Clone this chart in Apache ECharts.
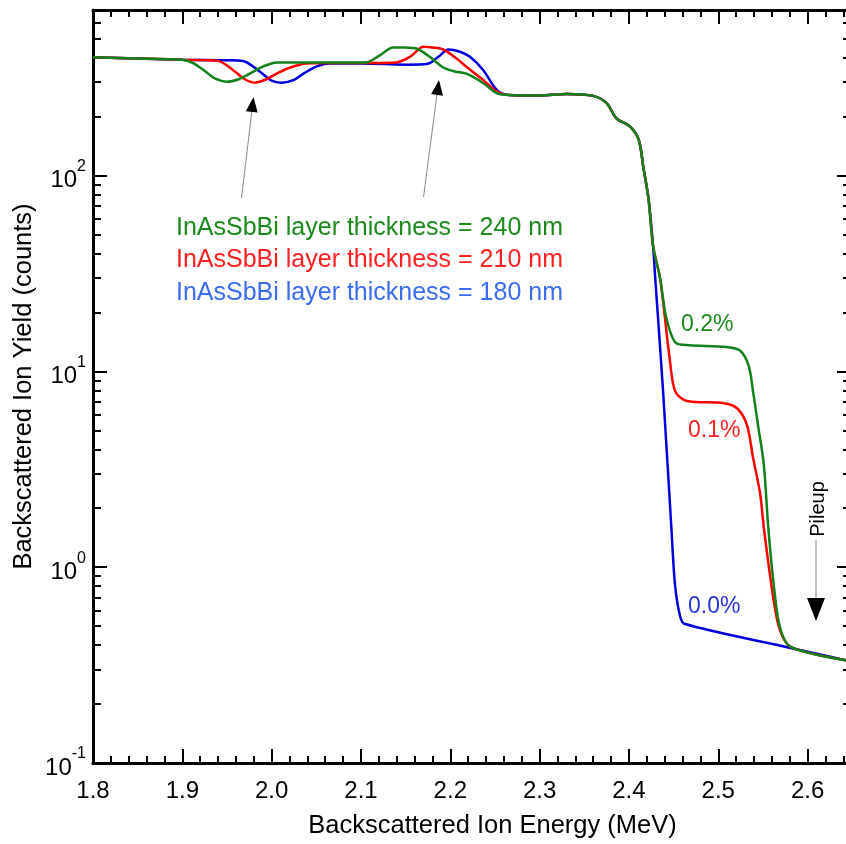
<!DOCTYPE html>
<html lang="en">
  <head>
    <meta charset="UTF-8" />
    <title>RBS spectra - InAsSbBi</title>
    <script src="https://cdn.jsdelivr.net/npm/echarts@6.0.0/dist/echarts.min.js"></script>
    <style>
      html, body { margin: 0; padding: 0; background: #fff; }
      #main { width: 846px; height: 844px; }
    </style>
  </head>
  <body>
    <div id="main"></div>

    <script>
      const font = "'Liberation Sans', Arial, sans-serif";

      // 240 nm layer (0.2 %)
      const energy240 = [1.80, 1.85, 1.90, 1.912, 1.924, 1.937, 1.950, 1.963, 1.976, 1.99, 2.006, 2.03, 2.06, 2.106, 2.121, 2.136, 2.15, 2.162, 2.177, 2.192, 2.205, 2.218, 2.237, 2.252, 2.265, 2.30, 2.33, 2.36, 2.375, 2.386, 2.401, 2.411, 2.416, 2.422, 2.427, 2.435, 2.442, 2.453, 2.468, 2.509, 2.524, 2.534, 2.539, 2.545, 2.551, 2.556, 2.562, 2.569, 2.581, 2.643];
      const yield240 = [402, 396, 390, 375, 345, 312, 301, 310, 332, 360, 378, 378, 378, 378, 411, 451, 450, 445, 404, 356, 340, 331, 296, 263, 258, 256, 261, 255, 234, 196, 178, 152, 111, 75.5, 43.7, 29.6, 18.6, 13.9, 13.6, 13.3, 12.8, 10.7, 7.87, 5.13, 3.34, 1.59, 0.82, 0.495, 0.392, 0.335];

      // 210 nm layer (0.1 %)
      const energy210 = [1.80, 1.85, 1.90, 1.939, 1.957, 1.969, 1.981, 1.994, 2.006, 2.02, 2.039, 2.07, 2.10, 2.14, 2.155, 2.170, 2.18, 2.192, 2.207, 2.218, 2.237, 2.252, 2.265, 2.30, 2.33, 2.36, 2.375, 2.386, 2.401, 2.411, 2.416, 2.422, 2.427, 2.435, 2.446, 2.452, 2.465, 2.506, 2.521, 2.532, 2.539, 2.547, 2.551, 2.562, 2.569, 2.581, 2.643];
      const yield210 = [402, 396, 390, 386, 345, 312, 298, 310, 332, 355, 373, 375, 375, 378, 404, 454, 450, 440, 396, 359, 307, 268, 258, 256, 261, 255, 234, 196, 178, 152, 111, 75.5, 43.7, 29.6, 11.2, 7.87, 7.06, 6.88, 6.48, 5.34, 3.61, 2.35, 1.59, 0.676, 0.477, 0.392, 0.335];

      // 180 nm layer (0.0 %)
      const energy180 = [1.80, 1.85, 1.90, 1.95, 1.968, 1.987, 2.0, 2.011, 2.025, 2.036, 2.05, 2.065, 2.10, 2.15, 2.175, 2.187, 2.198, 2.21, 2.222, 2.237, 2.252, 2.265, 2.30, 2.33, 2.36, 2.375, 2.386, 2.401, 2.411, 2.416, 2.422, 2.427, 2.4295, 2.438, 2.4475, 2.4515, 2.457, 2.462, 2.581, 2.643];
      const yield180 = [402, 396, 390, 388, 384, 339, 305, 298, 308, 332, 360, 373, 373, 368, 372, 405, 440, 430, 404, 345, 274, 258, 256, 261, 255, 234, 196, 178, 152, 111, 75.5, 43.7, 29.6, 8.2, 1.59, 0.82, 0.568, 0.514, 0.387, 0.335];

      const xMajor = [1.8, 1.9, 2.0, 2.1, 2.2, 2.3, 2.4, 2.5, 2.6];
      const yMajor = [0.1, 1, 10, 100];

      const xMinor = [];
      for (let i = 0; i <= 42; i++) {
        if (i % 5 !== 0) xMinor.push(+(1.8 + i * 0.02).toFixed(2));
      }
      const yMinor = [];
      [0.1, 1, 10, 100].forEach(function (d) {
        for (let k = 2; k <= 9; k++) {
          if (d * k <= 700) yMinor.push(+(d * k).toPrecision(3));
        }
      });

      const series = [
        { name: '180 nm', x: energy180, y: yield180, color: '#0000dd' },
        { name: '210 nm', x: energy210, y: yield210, color: '#ff0000' },
        { name: '240 nm', x: energy240, y: yield240, color: '#11811a' },
      ];

      function xAxis(pos, ticks, len, labels) {
        return {
          type: 'value', position: pos, min: 1.8, max: 2.643,
          axisLine: { show: labels, onZero: false, lineStyle: { color: '#000', width: 3 } },
          axisTick: { inside: true, length: len, customValues: ticks, lineStyle: { color: '#000', width: 2 } },
          axisLabel: {
            show: labels, customValues: xMajor, margin: 16,
            color: '#000', fontSize: 24, fontFamily: font,
            formatter: function (v) { return v.toFixed(1); },
          },
          splitLine: { show: false },
        };
      }

      function yAxis(pos, ticks, len, labels) {
        return {
          type: 'log', logBase: 10, position: pos, min: 0.1, max: 700,
          offset: pos === 'right' ? 5 : 0,
          axisLine: { show: labels, lineStyle: { color: '#000', width: 3 } },
          axisTick: { inside: true, length: len, customValues: ticks, lineStyle: { color: '#000', width: 2 } },
          axisLabel: {
            show: labels && pos === 'left', customValues: yMajor, margin: 7,
            formatter: function (v) { return '{b|10}{s|' + Math.round(Math.log10(v)) + '}'; },
            rich: {
              b: { fontSize: 24, fontFamily: font, color: '#000', padding: [10, 0, 0, 0] },
              s: { fontSize: 16, fontFamily: font, color: '#000', verticalAlign: 'top' },
            },
          },
          splitLine: { show: false },
        };
      }

      const xAxes = [xAxis('bottom', xMajor, 14, true), xAxis('bottom', xMinor, 7, false),
        xAxis('top', xMajor, 14, true), xAxis('top', xMinor, 7, false)];
      xAxes[0].name = 'Backscattered Ion Energy (MeV)';
      xAxes[0].nameLocation = 'middle';
      xAxes[0].nameGap = 50;
      xAxes[0].nameTextStyle = { color: '#000', fontSize: 25.5, fontFamily: font, padding: [0, 0, 0, 46] };
      xAxes[2].axisLabel.show = false;

      const yAxes = [yAxis('left', yMajor, 14, true), yAxis('left', yMinor, 8, false),
        yAxis('right', yMajor, 14, true), yAxis('right', yMinor, 8, false)];
      yAxes[0].name = 'Backscattered Ion Yield (counts)';
      yAxes[0].nameLocation = 'middle';
      yAxes[0].nameGap = 56;
      yAxes[0].nameMoveOverlap = false;
      yAxes[0].nameTextStyle = { color: '#000', fontSize: 25.5, fontFamily: font };

      function txt(text, x, y, color, size) {
        return {
          type: 'text', x: x, y: y, z: 100,
          style: { text: text, fill: color, fontSize: size, fontFamily: font, align: 'left', verticalAlign: 'middle' },
        };
      }

      const grey = { stroke: '#8a8a8a', lineWidth: 1 };

      const options = {
        animation: false,
        backgroundColor: '#fff',
        grid: { left: 93, right: 0, top: 10, bottom: 77 },
        xAxis: xAxes,
        yAxis: yAxes,
        series: series.map(function (s) {
          return {
            name: s.name, type: 'line', xAxisIndex: 0, yAxisIndex: 0,
            data: s.x.map(function (e, i) { return [e, s.y[i]]; }),
            showSymbol: false, smooth: 0.3,
            lineStyle: { color: s.color, width: 2.5 },
            itemStyle: { color: s.color },
          };
        }),
        graphic: [
          txt('InAsSbBi layer thickness = 240 nm', 176, 228, '#1b8a1b', 25),
          txt('InAsSbBi layer thickness = 210 nm', 176, 260, '#ff2020', 25),
          txt('InAsSbBi layer thickness = 180 nm', 176, 293, '#3b6cf0', 25),
          txt('0.2%', 681, 325, '#1b8a1b', 23),
          txt('0.1%', 688, 431, '#ff2020', 23),
          txt('0.0%', 688, 607, '#2a33dd', 23),
          {
            type: 'text', x: 818, y: 509, rotation: Math.PI / 2, z: 100,
            style: { text: 'Pileup', fill: '#000', fontSize: 20, fontFamily: font, align: 'center', verticalAlign: 'middle' },
          },
          { type: 'line', z: 100, shape: { x1: 241.5, y1: 198, x2: 252, y2: 110 }, style: grey },
          { type: 'polygon', z: 100, shape: { points: [[253.5, 97], [257.7, 112.6], [245.8, 111.2]] }, style: { fill: '#000' } },
          { type: 'line', z: 100, shape: { x1: 423.5, y1: 197, x2: 437, y2: 94 }, style: grey },
          { type: 'polygon', z: 100, shape: { points: [[439, 80], [443, 95.7], [431.1, 94.1]] }, style: { fill: '#000' } },
          { type: 'line', z: 100, shape: { x1: 816, y1: 540, x2: 816, y2: 600 }, style: grey },
          { type: 'polygon', z: 100, shape: { points: [[807, 598], [825, 598], [816, 621]] }, style: { fill: '#000' } },
        ],
      };

      const myChart = echarts.init(document.getElementById('main'));
      myChart.setOption(options);
    </script>
  </body>
</html>
